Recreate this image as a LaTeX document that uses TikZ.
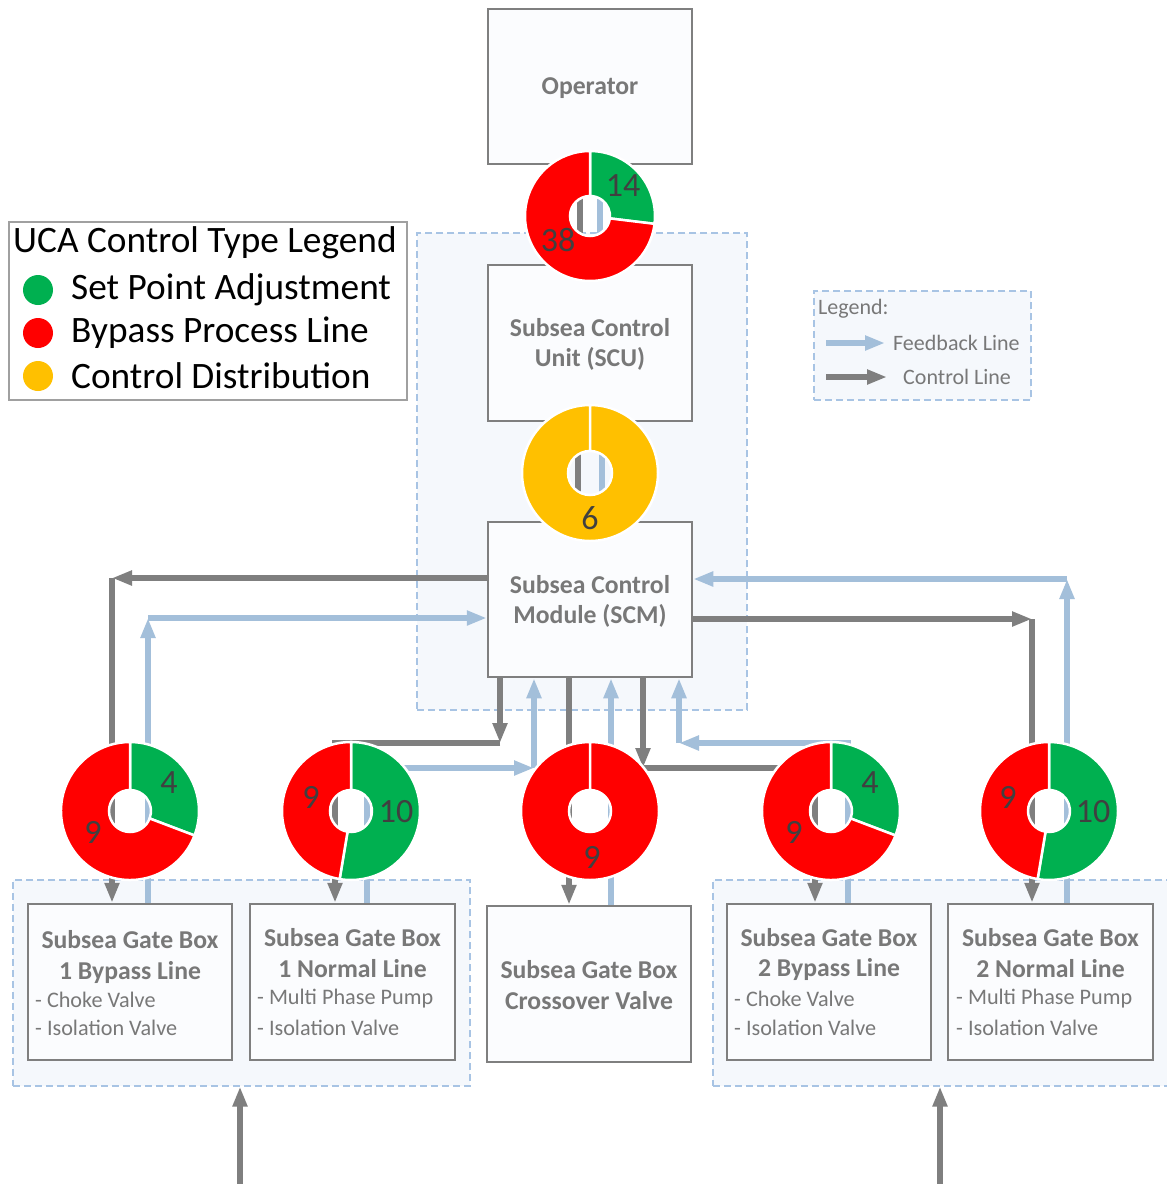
\documentclass[tikz,border=0pt]{standalone}
\usepackage{fontspec}
\setmainfont{Carlito}
\usetikzlibrary{arrows.meta,calc}

\definecolor{ctrlgray}{HTML}{7F7F7F}
\definecolor{fbblue}{HTML}{A3BFDA}
\definecolor{dashblue}{HTML}{A8C4E4}
\definecolor{grpfill}{HTML}{F5F8FC}
\definecolor{boxfill}{HTML}{FBFCFE}
\definecolor{txtgray}{HTML}{787878}
\definecolor{numgray}{HTML}{404040}
\definecolor{spagreen}{HTML}{00B050}
\definecolor{bplred}{HTML}{FF0000}
\definecolor{cdyellow}{HTML}{FFC000}
\definecolor{legborder}{HTML}{A0A0A0}

\tikzset{
  headtip/.style={-{Triangle[length=20pt,width=14pt]}},
  ctrlline/.style={draw=ctrlgray, line width=5.5pt},
  ctrl/.style={ctrlline, headtip},
  fbline/.style={draw=fbblue, line width=5.5pt},
  fb/.style={fbline, headtip},
  gbox/.style={draw=ctrlgray, line width=2.5pt, fill=boxfill,
    minimum width=204pt, minimum height=156pt, inner sep=0pt},
  grp/.style={draw=dashblue, line width=1.2pt, dash pattern=on 7pt off 4pt,
    fill=grpfill, inner sep=0pt},
  ttl/.style={font=\fontsize{25.7}{30}\selectfont\bfseries, text=txtgray, inner sep=0pt},
  itm/.style={font=\fontsize{22.2}{26}\selectfont, text=txtgray, anchor=west, inner sep=0pt},
  num/.style={font=\fontsize{34}{38}\selectfont, text=numgray, inner sep=0pt},
  ucat/.style={font=\fontsize{37.3}{42}\selectfont, anchor=west, inner sep=0pt},
  legt/.style={font=\fontsize{22}{26}\selectfont, text=txtgray, anchor=west, inner sep=0pt},
}

% one slice of a ring chart: centre, inner radius, outer radius,
% start and end angle measured clockwise from the top, colour
\newcommand{\ringpart}[6]{%
  \fill[#6, draw=white, line width=2.5pt, shift={(#1)}]
    ({#4-90}:#3) arc[start angle={#4-90}, end angle={#5-90}, radius=#3]
    -- ({#5-90}:#2) arc[start angle={#5-90}, end angle={#4-90}, radius=#2] -- cycle;
}

\begin{document}
\begin{tikzpicture}[x=1pt, y=-1pt]
\fill[white] (0,0) rectangle (1167,1184);
\useasboundingbox (0,0) rectangle (1167,1184);

% ---- dashed groupings ----
\node[grp, minimum width=330pt, minimum height=477pt] (grpM) at (582,471.5) {};
\node[grp, minimum width=457pt, minimum height=206pt] (grpL) at (241.5,983) {};
\node[grp, minimum width=457pt, minimum height=206pt] (grpR) at (941.5,983) {};

% ---- blocks ----
\node[gbox, minimum height=155pt] (op)  at (590,86.5) {};
\node[gbox] (scu) at (590,343) {};
\node[gbox, minimum height=155pt] (scm) at (590,599.5) {};
\node[gbox] (g1b) at (130,982) {};
\node[gbox, minimum width=205pt] (g1n) at (352.5,982) {};
\node[gbox] (gx)  at (589,984) {};
\node[gbox] (g2b) at (829,982) {};
\node[gbox, minimum width=205pt] (g2n) at (1050.5,982) {};

% ---- routing points ----
\coordinate (cA) at (112,578);
\coordinate (cB) at (148,618);
\coordinate (cC) at (1032,619);
\coordinate (cD) at (1067,579);
\coordinate (cE) at (500,743);
\coordinate (cE2) at (335,743);
\coordinate (cF1) at (367,768);
\coordinate (cF) at (534,768);
\coordinate (cG) at (569,700);
\coordinate (cH) at (611,700);
\coordinate (cI) at (643,768);
\coordinate (cI2) at (815,768);
\coordinate (cJ2) at (848,743);
\coordinate (cJ) at (679,743);
\coordinate (cK) at (580,200);
\coordinate (cL) at (600,200);
\coordinate (cM) at (578,470);
\coordinate (cN) at (602,470);
\coordinate (inL) at (240,1184);
\coordinate (inR) at (940,1184);

% ---- connectors ----
\draw[ctrl] (op.south -| cK) -- (scu.north -| cK);
\draw[fb] (scu.north -| cL) -- (op.south -| cL);
\draw[ctrl] (scu.south -| cM) -- (scm.north -| cM);
\draw[fb] (scm.north -| cN) -- (scu.south -| cN);

\draw[ctrl] (scm.west |- cA) -- (cA);
\draw[ctrl] (cA) -- (cA |- g1b.north);
\draw[fb] (cB |- g1b.north) -- (cB);
\draw[fb] (cB) -- (scm.west |- cB);

\draw[ctrl] (scm.east |- cC) -- (cC);
\draw[ctrl] (cC) -- (cC |- g2n.north);
\draw[fb] (cD |- g2n.north) -- (cD);
\draw[fb] (cD) -- (scm.east |- cD);

\draw[ctrl] (scm.south -| cE) -- (cE);
\draw[ctrl] (cE) -- (cE2) -- (cE2 |- g1n.north);
\draw[fb] (cF1 |- g1n.north) -- (cF1) -- (cF);
\draw[fb] (cF) -- (scm.south -| cF);

\draw[ctrl] (scm.south -| cG) -- (gx.north -| cG);
\draw[fb] (gx.north -| cH) -- (scm.south -| cH);

\draw[ctrl] (scm.south -| cI) -- (cI);
\draw[ctrl] (cI) -- (cI2) -- (cI2 |- g2b.north);
\draw[fb] (cJ2 |- g2b.north) -- (cJ2) -- (cJ);
\draw[fb] (cJ) -- (scm.south -| cJ);

\draw[ctrl] (inL) -- (grpL.south -| inL);
\draw[ctrl] (inR) -- (grpR.south -| inR);

% ---- block texts ----
\node[ttl] (tOp) at (590,88) {Operator};
\node[ttl] (tScu1) at (590,328) {Subsea Control};
\node[ttl] (tScu2) at (590,359) {Unit (SCU)};
\node[ttl] (tScm1) at (590,585) {Subsea Control};
\node[ttl] (tScm2) at (590,616) {Module (SCM)};

\node[ttl] (t1b1) at (130,940) {Subsea Gate Box};
\node[ttl] (t1b2) at (130,972) {1 Bypass Line};
\node[itm] (t1b3) at (35,1000) {- Choke Valve};
\node[itm] (t1b4) at (35,1028) {- Isolation Valve};

\node[ttl] (t1n1) at (352.5,938) {Subsea Gate Box};
\node[ttl] (t1n2) at (352.5,969) {1 Normal Line};
\node[itm] (t1n3) at (257,999) {- Multi Phase Pump};
\node[itm] (t1n4) at (257,1028) {- Isolation Valve};

\node[ttl] (tx1) at (589,970) {Subsea Gate Box};
\node[ttl] (tx2) at (589,1001) {Crossover Valve};

\node[ttl] (t2b1) at (829,938) {Subsea Gate Box};
\node[ttl] (t2b2) at (829,969) {2 Bypass Line};
\node[itm] (t2b3) at (734,999) {- Choke Valve};
\node[itm] (t2b4) at (734,1028) {- Isolation Valve};

\node[ttl] (t2n1) at (1050.5,938) {Subsea Gate Box};
\node[ttl] (t2n2) at (1050.5,969) {2 Normal Line};
\node[itm] (t2n3) at (956,999) {- Multi Phase Pump};
\node[itm] (t2n4) at (956,1028) {- Isolation Valve};

% ---- ring charts ----
\coordinate (d0) at (590,216);
\coordinate (dY) at (590,473);
\coordinate (d1) at (130,811);
\coordinate (d2) at (351,811);
\coordinate (d3) at (590,811);
\coordinate (d4) at (831,811);
\coordinate (d5) at (1049,811);

\ringpart{d0}{20}{65}{0}{96.92}{spagreen}
\ringpart{d0}{20}{65}{96.92}{360}{bplred}
\ringpart{dY}{22}{68}{0}{360}{cdyellow}
\ringpart{d1}{21}{69}{0}{110.77}{spagreen}
\ringpart{d1}{21}{69}{110.77}{360}{bplred}
\ringpart{d2}{21}{69}{0}{189.47}{spagreen}
\ringpart{d2}{21}{69}{189.47}{360}{bplred}
\ringpart{d3}{21}{69}{0}{360}{bplred}
\ringpart{d4}{21}{69}{0}{110.77}{spagreen}
\ringpart{d4}{21}{69}{110.77}{360}{bplred}
\ringpart{d5}{21}{69}{0}{189.47}{spagreen}
\ringpart{d5}{21}{69}{189.47}{360}{bplred}

\node[num] (n0a) at (623,186) {14};
\node[num] (n0b) at (558,240) {38};
\node[num] (nY) at (590,518) {6};
\node[num] (n1a) at (169,783) {4};
\node[num] (n1b) at (93,832) {9};
\node[num] (n2a) at (311,797) {9};
\node[num] (n2b) at (396,812) {10};
\node[num] (n3) at (592,857) {9};
\node[num] (n4a) at (870,783) {4};
\node[num] (n4b) at (794,832) {9};
\node[num] (n5a) at (1008,797) {9};
\node[num] (n5b) at (1093,812) {10};

% ---- line type legend ----
\node[grp, minimum width=217pt, minimum height=109pt] (legR) at (922.5,345.5) {};
\node[legt] (lgT) at (818,309) {Legend:};
\coordinate (lfA) at (826,343);
\coordinate (lfB) at (885,343);
\coordinate (lcA) at (826,377);
\coordinate (lcB) at (887,377);
\draw[fb] (lfA) -- (lfB);
\draw[ctrl] (lcA) -- (lcB);
\node[legt] (lgF) at (893,343) {Feedback Line};
\node[legt] (lgC) at (903,377) {Control Line};

% ---- control type legend ----
\node[draw=legborder, line width=2pt, fill=white, minimum width=398pt,
      minimum height=178pt, inner sep=0pt] (legU) at (208,311) {};
\node[ucat] (uT) at (13,243) {UCA Control Type Legend};
\fill[spagreen] (38,290) circle[radius=15];
\fill[bplred] (38,333) circle[radius=15];
\fill[cdyellow] (38,376) circle[radius=15];
\node[ucat] (u1) at (71,290) {Set Point Adjustment};
\node[ucat] (u2) at (71,333) {Bypass Process Line};
\node[ucat] (u3) at (71,376) {Control Distribution};
\end{tikzpicture}
\end{document}
